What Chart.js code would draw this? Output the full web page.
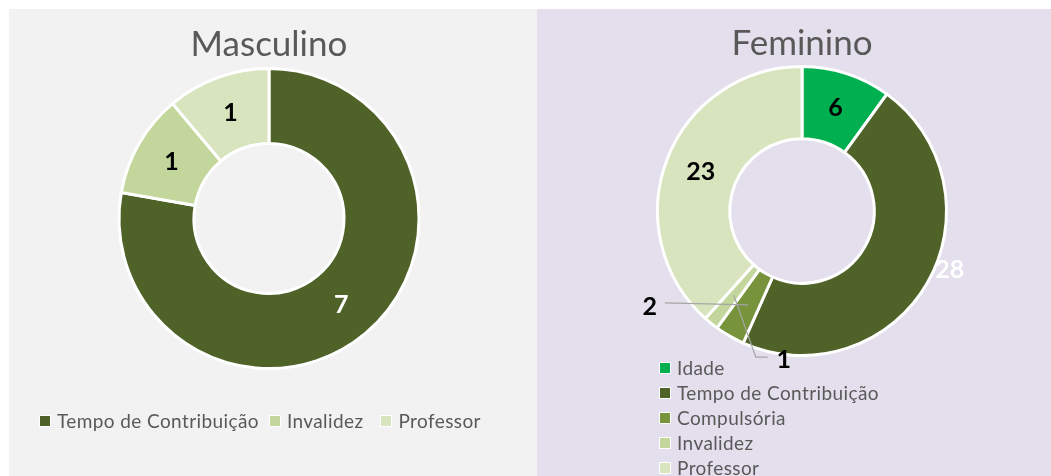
<!DOCTYPE html>
<html>
<head>
<meta charset="utf-8">
<title>Aposentadorias por sexo</title>
<script src="https://cdn.jsdelivr.net/npm/chart.js@4.4.1/dist/chart.umd.min.js"></script>
<style>
  body { margin: 0; width: 1051px; height: 476px; background: #fff; position: relative; overflow: hidden; font-family: Lato, sans-serif; }
  .panel { position: absolute; top: 9px; height: 467px; }
  #panel-m { left: 9px; width: 528px; background: #f2f2f2; }
  #panel-f { left: 537px; width: 514px; background: #e4dfec; }
  .panel canvas { position: absolute; left: 0; top: 0; }
  .legend { position: absolute; color: #595959; font-size: 19px; letter-spacing: 0.4px; }
  .legend .item { display: flex; align-items: center; white-space: nowrap; }
  .legend .box { width: 10px; height: 10px; border: 1px solid #fff; margin-right: 6px; }
  #legend-m { left: 30px; top: 400px; display: flex; }
  #legend-m .item:nth-child(1) { margin-right: 10px; }
  #legend-m .item:nth-child(2) { margin-right: 17px; }
  #legend-f { left: 122px; top: 346px; }
  #legend-f .item { height: 25px; }
</style>
</head>
<body>
<div class="panel" id="panel-m"><canvas id="chart-m"></canvas><div class="legend" id="legend-m"></div></div>
<div class="panel" id="panel-f"><canvas id="chart-f"></canvas><div class="legend" id="legend-f"></div></div>
<script>
/************************ data *********************************/

const labelsM = ["Tempo de Contribuição", "Invalidez", "Professor"];
const valuesM = [7, 1, 1];
const colorsM = ["#4f6228", "#c3d69b", "#d7e4bd"];

const labelsF = ["Idade", "Tempo de Contribuição", "Compulsória", "Invalidez", "Professor"];
const valuesF = [6, 28, 2, 1, 23];
const colorsF = ["#00b050", "#4f6228", "#77933c", "#c3d69b", "#d7e4bd"];

/************************ value labels plugin ******************************/
// draws the number of each slice at the arc centroid, with optional shift and leader line
const valueLabels = {
  id: "valueLabels",
  afterDatasetsDraw(chart, args, opts) {
    const ctx = chart.ctx;
    const meta = chart.getDatasetMeta(0);
    const data = chart.data.datasets[0].data;
    ctx.save();
    ctx.font = "bold 25px Lato, sans-serif";
    ctx.textAlign = "center";
    ctx.textBaseline = "middle";
    meta.data.forEach((arc, i) => {
      const c = arc.tooltipPosition();
      const s = (opts.shift && opts.shift[i]) || [0, 0];
      const x = c.x + s[0];
      const y = c.y + s[1];
      const lead = opts.leader && opts.leader[i];
      if (lead) {
        ctx.strokeStyle = "#a6a6a6";
        ctx.lineWidth = 1.2;
        ctx.beginPath();
        ctx.moveTo(c.x, c.y);
        lead.forEach((p) => ctx.lineTo(x + p[0], y + p[1]));
        ctx.stroke();
      }
      ctx.fillStyle = (opts.white && opts.white[i]) ? "#ffffff" : "#000000";
      ctx.fillText(String(data[i]), x, y);
    });
    ctx.restore();
  },
};

function makeDoughnut(id, title, labels, values, colors, padding, titlePad, labelOpts) {
  return new Chart(document.getElementById(id), {
    type: "doughnut",
    data: {
      labels: labels,
      datasets: [{
        data: values,
        backgroundColor: colors,
        borderColor: "#ffffff",
        borderWidth: 3,
      }],
    },
    plugins: [valueLabels],
    options: {
      responsive: true,
      maintainAspectRatio: false,
      animation: false,
      cutout: "50%",
      layout: { padding: padding },
      plugins: {
        legend: { display: false },
        tooltip: { enabled: false },
        title: {
          display: true,
          text: title,
          color: "#595959",
          font: { family: "Lato, sans-serif", size: 35, weight: "normal" },
          padding: titlePad,
        },
        valueLabels: labelOpts,
      },
    },
  });
}

function makeLegend(id, labels, colors) {
  const el = document.getElementById(id);
  labels.forEach((l, i) => {
    const item = document.createElement("div");
    item.className = "item";
    item.innerHTML = '<span class="box" style="background:' + colors[i] + '"></span><span>' + l + "</span>";
    el.appendChild(item);
  });
}

/************************* CHART MASCULINO ******************************/
makeDoughnut("chart-m", "Masculino", labelsM, valuesM, colorsM,
  { left: 0, right: 8, top: 0, bottom: 106 },
  { top: 15, bottom: 1 },
  { white: [true, false, false] });
makeLegend("legend-m", labelsM, colorsM);

/************************* CHART FEMININO ******************************/
makeDoughnut("chart-f", "Feminino", labelsF, valuesF, colorsF,
  { left: 16, right: 0, top: 0, bottom: 119 },
  { top: 14, bottom: 0 },
  {
    white: [false, true, false, false, false],
    shift: [null, [54, 5], [-98, 2], [50, 65], null],
    leader: [null, null, [[15, -4]], [[-28, -3], [-16, -3]], null],
  });
makeLegend("legend-f", labelsF, colorsF);
</script>
</body>
</html>
